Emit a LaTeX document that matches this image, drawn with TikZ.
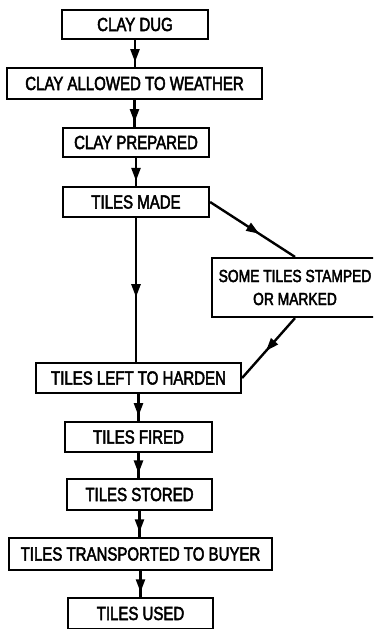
\documentclass[tikz,border=0pt]{standalone}
\usepackage{fontspec}
\setmainfont{Liberation Sans}[FakeStretch=0.79,FakeBold=2.5]
\usetikzlibrary{arrows.meta,decorations.markings}
\begin{document}
\begin{tikzpicture}[x=1pt,y=-1pt,
  box/.style={draw,line width=2.2pt,rectangle,inner sep=0pt,align=center,
    font=\fontsize{19}{23}\selectfont},
  flow/.style={line width=2.4pt,postaction={decorate},
    decoration={markings,mark=at position #1 with {\arrow{Triangle[length=13pt,width=9pt]}}}},
  flow/.default=0.82]
\useasboundingbox (0,0) rectangle (373,629);
\clip (0,0) rectangle (373,629);
\node[box,minimum width=146pt,minimum height=29pt] (dug) at (135,24.5) {CLAY DUG};
\node[box,minimum width=255pt,minimum height=31pt] (weather) at (134.5,83.5) {CLAY ALLOWED TO WEATHER};
\node[box,minimum width=146pt,minimum height=29pt] (prep) at (136,142.5) {CLAY PREPARED};
\node[box,minimum width=146pt,minimum height=30pt] (made) at (136,202) {TILES MADE};
\node[box,minimum width=166pt,minimum height=59pt,font=\fontsize{17.5}{23}\selectfont] (stamp) at (295,287.5) {SOME TILES STAMPED\\OR MARKED};
\node[box,minimum width=205pt,minimum height=30pt] (harden) at (138.5,378) {TILES LEFT TO HARDEN};
\node[box,minimum width=147pt,minimum height=30pt] (fired) at (138.5,437) {TILES FIRED};
\node[box,minimum width=145pt,minimum height=31pt] (stored) at (139.5,494.5) {TILES STORED};
\node[box,minimum width=263pt,minimum height=32pt] (trans) at (140.5,554) {TILES TRANSPORTED TO BUYER};
\node[box,minimum width=145pt,minimum height=31pt] (used) at (140.5,613.5) {TILES USED};
\draw[flow] (dug.south) -- (dug.south |- weather.north);
\draw[flow] (weather.south) -- (weather.south |- prep.north);
\draw[flow] (prep.south) -- (prep.south |- made.north);
\draw[flow=0.55] (made.south) -- (made.south |- harden.north);
\draw[flow=0.58] (made.east) -- (stamp.north);
\draw[flow=0.55] (stamp.south) -- (harden.east);
\draw[flow] (harden.south) -- (harden.south |- fired.north);
\draw[flow] (fired.south) -- (fired.south |- stored.north);
\draw[flow] (stored.south) -- (stored.south |- trans.north);
\draw[flow] (trans.south) -- (trans.south |- used.north);
\end{tikzpicture}
\end{document}
